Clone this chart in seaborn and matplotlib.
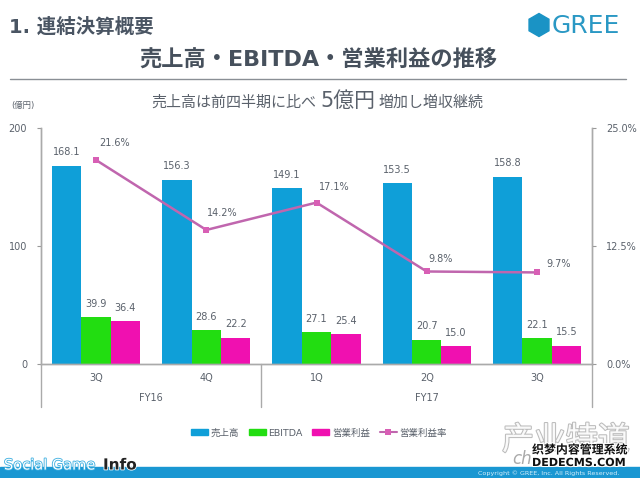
import pandas as pd
import numpy as np
import matplotlib
matplotlib.use('Agg')
import matplotlib.pyplot as plt
import matplotlib.patheffects as pe
import seaborn as sns
from matplotlib.patches import Rectangle, RegularPolygon, Patch
from matplotlib.lines import Line2D

periods = ['FY16 3Q', 'FY16 4Q', 'FY17 1Q', 'FY17 2Q', 'FY17 3Q']
quarter_labels = ['3Q', '4Q', '1Q', '2Q', '3Q']
sales = [168.1, 156.3, 149.1, 153.5, 158.8]
ebitda = [39.9, 28.6, 27.1, 20.7, 22.1]
op_profit = [36.4, 22.2, 25.4, 15.0, 15.5]
op_margin = [21.6, 14.2, 17.1, 9.8, 9.7]
series_names = ['売上高', 'EBITDA', '営業利益']
margin_name = '営業利益率'
colors = ['#0f9fd8', '#22dd11', '#f010b0']
line_color = '#c066ae'
marker_color = '#d85fb5'
text_color = '#5a616b'
W, H = 640, 478

sns.set_theme(style='white')
plt.rcParams['font.family'] = ['DejaVu Sans', 'Noto Sans CJK JP']

df = pd.DataFrame({'period': periods, series_names[0]: sales,
                   series_names[1]: ebitda, series_names[2]: op_profit})
df = df.melt(id_vars='period', var_name='series', value_name='value')

fig = plt.figure(figsize=(6.4, 4.78), dpi=100)
ax = fig.add_axes([41 / W, 1 - 364 / H, 551 / W, 236 / H])
sns.barplot(data=df, x='period', y='value', hue='series', order=periods,
            hue_order=series_names, palette=colors, saturation=1, width=0.8,
            linewidth=0, legend=False, ax=ax)
ax.set_xlim(-0.5, 4.5)
ax.set_ylim(0, 200)
ax.set_yticks([0, 100, 200])
ax.set_xticks([])
ax.set_xlabel('')
ax.set_ylabel('')
ax.tick_params(axis='y', length=3, width=0.8, color='#999999', labelcolor=text_color,
               labelsize=7, pad=7)
ax.patch.set_alpha(0)

for c in ax.containers:
    ax.bar_label(c, fmt='%.1f', padding=6, fontsize=7, color=text_color)

ax2 = ax.twinx()
sns.lineplot(x=np.arange(len(periods)), y=op_margin, color=line_color, lw=1.8,
             marker='s', markersize=5, markeredgewidth=0, markerfacecolor=marker_color, ax=ax2)
ax2.set_ylim(0, 25)
ax2.set_yticks([0, 12.5, 25])
ax2.set_yticklabels(['0.0%', '12.5%', '25.0%'])
ax2.tick_params(axis='y', length=3, width=0.8, color='#999999', labelcolor=text_color,
                labelsize=7, pad=7)
margin_offsets = [(13, 12), (11.5, 12), (13, 11), (10, 9), (16, 6)]
for i, m in enumerate(op_margin):
    ax2.annotate(f'{m:.1f}%', (i, m), xytext=margin_offsets[i], textcoords='offset points',
                 ha='center', va='center', fontsize=7, color=text_color)

for a in [ax, ax2]:
    a.spines['top'].set_visible(False)
    for side in ['left', 'right', 'bottom']:
        a.spines[side].set_color('#aaaaaa')
        a.spines[side].set_linewidth(1)

# multi level category axis below the plot
trans = ax.get_xaxis_transform()
for x in [-0.5, 1.5, 4.5]:
    ax.add_line(Line2D([x, x], [0, -43 / 236], transform=trans, color='#aaaaaa',
                       lw=1, clip_on=False))
for i, q in enumerate(quarter_labels):
    ax.text(i, -14 / 236, q, transform=trans, ha='center', va='center',
            fontsize=7, color=text_color)
ax.text(0.5, -34 / 236, 'FY16', transform=trans, ha='center', va='center',
        fontsize=7, color=text_color)
ax.text(3, -34 / 236, 'FY17', transform=trans, ha='center', va='center',
        fontsize=7, color=text_color)

handles = [Patch(color=c) for c in colors]
handles.append(Line2D([], [], color=line_color, lw=1.5, marker='s', markersize=4,
                      markerfacecolor=marker_color, markeredgewidth=0))
fig.legend(handles, series_names + [margin_name], loc='center', ncol=4, frameon=False,
           bbox_to_anchor=(319 / W, 1 - 433 / H), fontsize=6.8, labelcolor=text_color,
           handlelength=1.8, handleheight=0.6, columnspacing=1.0, handletextpad=0.3)


def ftext(x, y, s, **kw):
    return fig.text(x / W, 1 - y / H, s, ha=kw.pop('ha', 'center'), va='center', **kw)


# slide furniture
ftext(9, 27, '1. 連結決算概要', ha='left', fontsize=14, fontweight='bold', color='#4a5563')
fig.add_artist(RegularPolygon((5.39, 4.53), 6, radius=0.115, color='#1a93c5',
                              transform=fig.dpi_scale_trans))
ftext(586, 26, 'GREE', fontsize=18, color='#2a98c4')
ftext(318, 60, '売上高・EBITDA・営業利益の推移', fontsize=16, fontweight='bold', color='#46505c')
fig.add_artist(Line2D([10 / W, 626 / W], [1 - 79 / H] * 2, color='#8a8f95', lw=1))

ftext(151, 102, '売上高は前四半期に比べ', ha='left', fontsize=10.8, color=text_color)
ftext(320, 101, '5億円', ha='left', fontsize=15, color=text_color)
ftext(379, 102, '増加し増収継続', ha='left', fontsize=10.8, color=text_color)
ftext(23, 105, '(億円)', fontsize=6, color=text_color)

fig.add_artist(Rectangle((0, 0), 1, 11 / H, transform=fig.transFigure, color='#1a97d2'))
ftext(4, 465, 'Social Game', ha='left', fontsize=10.5, color='white',
      path_effects=[pe.withStroke(linewidth=1.2, foreground='#3aaee0')])
ftext(103, 465, 'Info', ha='left', fontsize=11, fontweight='bold', color='#222222',
      path_effects=[pe.withStroke(linewidth=1.2, foreground='white')])
ftext(478, 473, 'Copyright © GREE, Inc. All Rights Reserved.', ha='left', fontsize=4.6,
      color='#d5eefa')

# site watermark
ftext(566, 441, '产业特道', fontsize=23, color='white', alpha=0.9,
      path_effects=[pe.withStroke(linewidth=1.5, foreground='#b5b5b5')])
ftext(512, 459, 'ch', ha='left', fontsize=12, style='italic', color='#aaaaaa')
stroke = [pe.withStroke(linewidth=1.5, foreground='white')]
ftext(532, 450, '织梦内容管理系统', ha='left', fontsize=8.6, fontweight='bold', color='#111111',
      path_effects=stroke)
ftext(532, 463, 'DEDECMS.COM', ha='left', fontsize=8, fontweight='bold', color='#111111',
      path_effects=stroke)

fig.savefig('out.png', dpi=100)
